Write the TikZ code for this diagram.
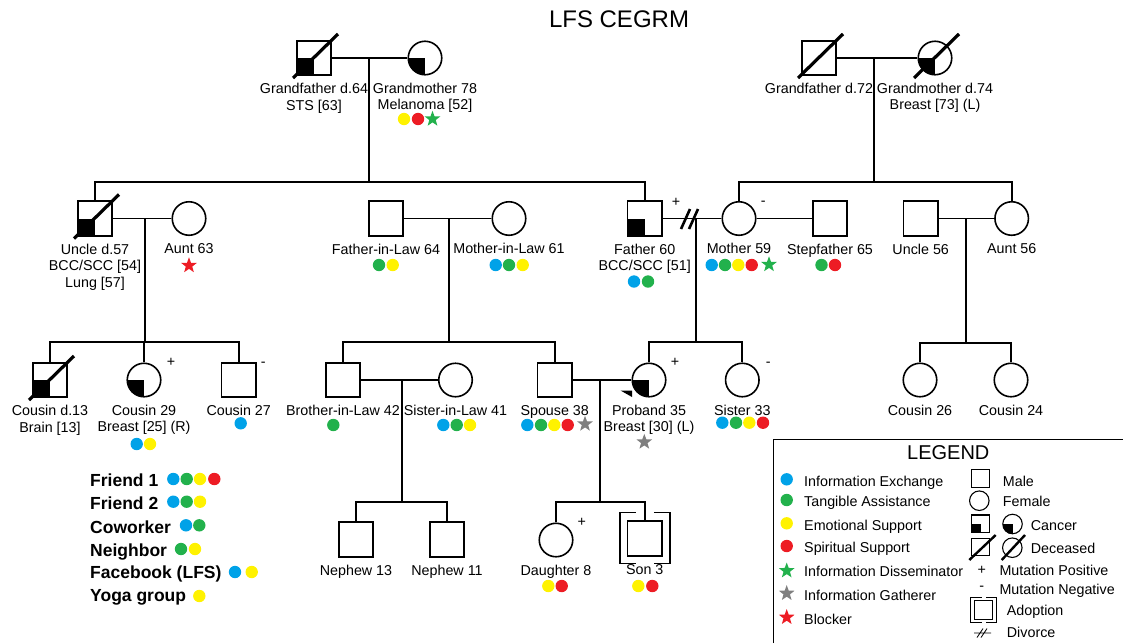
\documentclass[tikz,border=0pt]{standalone}
\usepackage{fontspec}
\setmainfont{Liberation Sans}
\usetikzlibrary{positioning,calc}
\definecolor{infoex}{HTML}{00A2E8}
\definecolor{tangib}{HTML}{22B14C}
\definecolor{emot}{HTML}{FFF200}
\definecolor{spirit}{HTML}{ED1C24}
\definecolor{gather}{HTML}{7F7F7F}
\tikzset{
  male/.style={draw,rectangle,minimum size=34.5pt,inner sep=0pt,line width=1.6pt},
  female/.style={draw,circle,minimum size=33.5pt,inner sep=0pt,line width=1.6pt},
  lgmale/.style={draw,rectangle,minimum size=17.5pt,inner sep=0pt,line width=1.1pt},
  lgfemale/.style={draw,circle,minimum size=19.5pt,inner sep=0pt,line width=1.1pt},
  lbl/.style={font=\fontsize{14.3}{16.5}\selectfont,align=center,inner sep=0pt},
  frnd/.style={font=\fontsize{17.5}{21}\selectfont\bfseries,inner sep=0pt},
  tie/.style={line width=1.8pt},
  slash/.style={line width=3.2pt}
}
\newcommand{\supdot}[3]{\fill[#3] (#1,#2) circle[radius=6.2];}
\newcommand{\supstar}[3]{%
  \fill[#3] (#1,#2) +(-90:8.2) -- +(-54:3.4) -- +(-18:8.2) -- +(18:3.4) -- +(54:8.2)
    -- +(90:3.4) -- +(126:8.2) -- +(162:3.4) -- +(198:8.2) -- +(234:3.4) -- cycle;
}
\newcommand{\cancersq}[1]{\fill (#1.center) rectangle (#1.south west);}
\newcommand{\cancerci}[2]{%
  \begin{scope}
    \clip (#1.center) circle[radius=#2];
    \fill (#1.center) rectangle ([shift={(-#2pt,-#2pt)}]#1.center);
  \end{scope}
}
\newcommand{\deceased}[1]{\draw[slash] ([shift={(-21pt,-20pt)}]#1.center) -- ([shift={(24pt,24pt)}]#1.center);}

\begin{document}
\begin{tikzpicture}[x=1pt,y=-1pt]
  \useasboundingbox (0,0) rectangle (1123,643);
  \node[font=\fontsize{24}{28}\selectfont,inner sep=0pt] (title) at (619,19) {LFS CEGRM};

  % grandparents
  \node[male] (gfa) at (314,58) {};
  \node[female] (gma) at (425,58) {};
  \node[male] (gfb) at (819,58) {};
  \node[female] (gmb) at (935,58) {};
  \cancersq{gfa}\cancerci{gma}{17}\cancerci{gmb}{17}
  \deceased{gfa}\deceased{gfb}\deceased{gmb}
  \draw[tie] (gfa) -- (gma);
  \draw[tie] (gfb) -- (gmb);
  \coordinate (cpa) at (369,58);
  \coordinate (cpb) at (874,58);
  \coordinate (sba) at (369,182);
  \coordinate (sbb) at (874,182);
  \node[lbl,below=7pt of gfa] (gfa-t) {Grandfather d.64\\STS [63]};
  \node[lbl,below=7pt of gma] (gma-t) {Grandmother 78\\Melanoma [52]};
  \node[lbl,below=7pt of gfb] (gfb-t) {Grandfather d.72};
  \node[lbl,below=7pt of gmb] (gmb-t) {Grandmother d.74\\Breast [73] (L)};
  \foreach \x/\cl in {404/emot,418/spirit} {\supdot{\x}{119}{\cl}}
  \supstar{432.5}{119}{tangib}

  % parents, uncles, aunts
  \node[male] (uncle) at (95,218.5) {};
  \node[female] (aunt) at (189,218.5) {};
  \node[male] (fil) at (386,218.5) {};
  \node[female] (mil) at (509,218.5) {};
  \node[male] (father) at (644.7,218.5) {};
  \node[female] (mother) at (739,218.5) {};
  \node[male] (stepf) at (830,218.5) {};
  \node[male] (uncleb) at (920.7,218.5) {};
  \node[female] (auntb) at (1011.7,218.5) {};
  \cancersq{uncle}\cancersq{father}
  \deceased{uncle}
  \draw[tie] (cpa) -- (sba);
  \draw[tie] (uncle.north) |- (sba) -| (father.north);
  \draw[tie] (cpb) -- (sbb);
  \draw[tie] (mother.north) |- (sbb) -| (auntb.north);
  \draw[tie] (uncle) -- (aunt);
  \draw[tie] (fil) -- (mil);
  \draw[tie] (father) -- (mother);
  \draw[tie] (mother) -- (stepf);
  \draw[tie] (uncleb) -- (auntb);
  \draw[slash,line width=2.6pt] (681,229) -- (690,209) (689,229) -- (698,209);
  \node[lbl] (father-g) at (676,202) {+};
  \node[lbl] (mother-g) at (763.3,203.3) {-};
  \node[lbl,below=7pt of uncle] (uncle-t) {Uncle d.57\\BCC/SCC [54]\\Lung [57]};
  \node[lbl,below=7pt of aunt] (aunt-t) {Aunt 63};
  \node[lbl,below=7pt of fil] (fil-t) {Father-in-Law 64};
  \node[lbl,below=7pt of mil] (mil-t) {Mother-in-Law 61};
  \node[lbl,below=7pt of father] (father-t) {Father 60\\BCC/SCC [51]};
  \node[lbl,below=7pt of mother] (mother-t) {Mother 59};
  \node[lbl,below=7pt of stepf] (stepf-t) {Stepfather 65};
  \node[lbl,below=7pt of uncleb] (uncleb-t) {Uncle 56};
  \node[lbl,below=7pt of auntb] (auntb-t) {Aunt 56};
  \supstar{189}{265.5}{spirit}
  \foreach \x/\cl in {379/tangib,392.7/emot} {\supdot{\x}{265}{\cl}}
  \foreach \x/\cl in {495.7/infoex,509/tangib,522.7/emot} {\supdot{\x}{265}{\cl}}
  \foreach \x/\cl in {634/infoex,648/tangib} {\supdot{\x}{281.5}{\cl}}
  \foreach \x/\cl in {711.7/infoex,725/tangib,738.3/emot,751.7/spirit} {\supdot{\x}{265}{\cl}}
  \supstar{769}{264.5}{tangib}
  \foreach \x/\cl in {821.5/tangib,835/spirit} {\supdot{\x}{265}{\cl}}

  % cousins, proband, siblings
  \coordinate (ca) at (145,218.5);
  \coordinate (cb) at (449,218.5);
  \coordinate (cc) at (695.7,218.5);
  \coordinate (cd) at (966,218.5);
  \coordinate (sca) at (145,342);
  \coordinate (scb) at (449,342);
  \coordinate (scc) at (695.7,342);
  \coordinate (scd) at (966,343);
  \node[male] (cous1) at (50,380) {};
  \node[female] (cous2) at (144,380) {};
  \node[male] (cous3) at (238.7,380) {};
  \node[male] (bil) at (343,380) {};
  \node[female] (sil) at (455.5,380) {};
  \node[male] (spouse) at (554.7,380) {};
  \node[female] (proband) at (649,380) {};
  \node[female] (sister) at (742.3,380) {};
  \node[female] (cous4) at (920,380) {};
  \node[female] (cous5) at (1011,380) {};
  \cancersq{cous1}\cancerci{cous2}{17}\cancerci{proband}{17}
  \deceased{cous1}
  \draw[tie] (ca) -- (sca);
  \draw[tie] (cous1.north) |- (sca) -| (cous3.north);
  \draw[tie] (sca) -| (cous2.north);
  \draw[tie] (cb) -- (scb);
  \draw[tie] (bil.north) |- (scb) -| (spouse.north);
  \draw[tie] (cc) -- (scc);
  \draw[tie] (proband.north) |- (scc) -| (sister.north);
  \draw[tie] (cd) -- (scd);
  \draw[tie] (cous4.north) |- (scd) -| (cous5.north);
  \draw[tie] (bil) -- (sil);
  \draw[tie] (spouse) -- (proband);
  \fill (620.5,390.5) -- (632,390.5) -- (632,397) -- cycle;
  \node[lbl] (cous2-g) at (171,362.7) {+};
  \node[lbl] (cous3-g) at (263.3,364) {-};
  \node[lbl] (proband-g) at (675,362.7) {+};
  \node[lbl] (sister-g) at (768.3,364) {-};
  \node[lbl,below=7pt of cous1] (cous1-t) {Cousin d.13\\Brain [13]};
  \node[lbl,below=7pt of cous2] (cous2-t) {Cousin 29\\Breast [25] (R)};
  \node[lbl,below=7pt of cous3] (cous3-t) {Cousin 27};
  \node[lbl,below=7pt of bil] (bil-t) {Brother-in-Law 42};
  \node[lbl,below=7pt of sil] (sil-t) {Sister-in-Law 41};
  \node[lbl,below=7pt of spouse] (spouse-t) {Spouse 38};
  \node[lbl,below=7pt of proband] (proband-t) {Proband 35\\Breast [30] (L)};
  \node[lbl,below=7pt of sister] (sister-t) {Sister 33};
  \node[lbl,below=7pt of cous4] (cous4-t) {Cousin 26};
  \node[lbl,below=7pt of cous5] (cous5-t) {Cousin 24};
  \foreach \x/\cl in {136.7/infoex,150/emot} {\supdot{\x}{444}{\cl}}
  \supdot{240.7}{423.3}{infoex}
  \supdot{333.3}{425}{tangib}
  \foreach \x/\cl in {443.3/infoex,456.7/tangib,470/emot} {\supdot{\x}{425}{\cl}}
  \foreach \x/\cl in {527.3/infoex,541/tangib,554.3/emot,567.7/spirit} {\supdot{\x}{425}{\cl}}
  \supstar{585}{424}{gather}
  \supstar{644.3}{442}{gather}
  \foreach \x/\cl in {722.3/infoex,736/tangib,749.3/emot,763/spirit} {\supdot{\x}{422.7}{\cl}}

  % children, nephews
  \coordinate (ce) at (401.7,380);
  \coordinate (cf) at (600,380);
  \coordinate (sce) at (401.7,501.7);
  \coordinate (scf) at (600,501.7);
  \node[male] (nep1) at (356,539.5) {};
  \node[male] (nep2) at (447,539.5) {};
  \node[female] (daughter) at (556,540) {};
  \node[male] (son) at (644.7,538.5) {};
  \draw[tie] (ce) -- (sce);
  \draw[tie] (nep1.north) |- (sce) -| (nep2.north);
  \draw[tie] (cf) -- (scf);
  \draw[tie] (daughter.north) |- (scf) -| (son.north);
  \draw[tie] ([shift={(9pt,8pt)}]son.north west) -- ([shift={(-7pt,8pt)}]son.north west)
    -- ([shift={(-7pt,-7pt)}]son.south west) -- ([shift={(9pt,-7pt)}]son.south west);
  \draw[tie] ([shift={(-9pt,8pt)}]son.north east) -- ([shift={(7pt,8pt)}]son.north east)
    -- ([shift={(7pt,-7pt)}]son.south east) -- ([shift={(-9pt,-7pt)}]son.south east);
  \node[lbl] (daughter-g) at (581.7,522.7) {+};
  \node[lbl,below=7pt of nep1] (nep1-t) {Nephew 13};
  \node[lbl,below=7pt of nep2] (nep2-t) {Nephew 11};
  \node[lbl,below=7pt of daughter] (daughter-t) {Daughter 8};
  \node[lbl,below=8pt of son] (son-t) {Son 3};
  \foreach \x/\cl in {548.3/emot,561.7/spirit,638.3/emot,652.3/spirit} {\supdot{\x}{586}{\cl}}

  % friends
  \foreach \txt/\yy [count=\i] in {Friend 1/486.7,Friend 2/509.3,Coworker/533.3,Neighbor/556,Facebook (LFS)/578.3,Yoga group/601.7}
    {\node[frnd,anchor=base west] (fr\i) at (90,\yy) {\txt};}
  \foreach \x/\cl in {173.3/infoex,186.7/tangib,200/emot,214.3/spirit} {\supdot{\x}{479}{\cl}}
  \foreach \x/\cl in {173.3/infoex,186.7/tangib,200/emot} {\supdot{\x}{501.7}{\cl}}
  \foreach \x/\cl in {186/infoex,199.3/tangib} {\supdot{\x}{525.3}{\cl}}
  \foreach \x/\cl in {181/tangib,195/emot} {\supdot{\x}{549}{\cl}}
  \foreach \x/\cl in {235/infoex,251.7/emot} {\supdot{\x}{572}{\cl}}
  \supdot{199.3}{596}{emot}

  % legend
  \draw[line width=1pt] (773,643) -- (773,439) -- (1123,439);
  \node[font=\fontsize{20}{24}\selectfont,inner sep=0pt] (lgtitle) at (948.3,452.3) {LEGEND};
  \foreach \txt/\yy [count=\i] in {Information Exchange/486.7,Tangible Assistance/506.7,Emotional Support/530,Spiritual Support/552.3,Information Disseminator/576.7,Information Gatherer/600.7,Blocker/624}
    {\node[lbl,anchor=base west] (lgl\i) at (804,\yy) {\txt};}
  \foreach \yy/\cl in {479.3/infoex,500/tangib,523.3/emot,546/spirit} {\supdot{786.7}{\yy}{\cl}}
  \foreach \yy/\cl in {570.7/tangib,593.3/gather,617.3/spirit} {\supstar{786.7}{\yy}{\cl}}
  \foreach \txt/\xx/\yy [count=\i] in {Male/1002.7/486,Female/1002.7/506.5,Cancer/1030.7/530,Deceased/1030.7/553,Mutation Positive/999.3/575.5,Mutation Negative/999.3/594,Adoption/1006.7/615,Divorce/1006.7/637}
    {\node[lbl,anchor=base west] (lgr\i) at (\xx,\yy) {\txt};}
  \node[lgmale] (lgm) at (980.3,478.3) {};
  \node[lgfemale] (lgf) at (979.3,500.7) {};
  \node[lgmale] (lgcs) at (980.5,523.7) {};
  \node[lgfemale] (lgcc) at (1012.5,524) {};
  \cancersq{lgcs}\cancerci{lgcc}{10}
  \node[lgmale] (lgds) at (980.5,547) {};
  \node[lgfemale] (lgdc) at (1012.3,547.7) {};
  \draw[line width=2.4pt] (969.3,560) -- (995.7,535);
  \draw[line width=2.4pt] (1001.7,560) -- (1025,535);
  \node[lbl] (lgpos) at (981.7,570) {+};
  \node[lbl] (lgneg) at (981.7,588.3) {-};
  \node[lgmale,minimum size=18.5pt] (lgad) at (983.3,610) {};
  \draw[line width=1.1pt] ([shift={(8pt,2.5pt)}]lgad.north west) -- ([shift={(-3pt,2.5pt)}]lgad.north west)
    -- ([shift={(-3pt,-2.5pt)}]lgad.south west) -- ([shift={(8pt,-2.5pt)}]lgad.south west);
  \draw[line width=1.1pt] ([shift={(-7pt,2.5pt)}]lgad.north east) -- ([shift={(3pt,2.5pt)}]lgad.north east)
    -- ([shift={(3pt,-2.5pt)}]lgad.south east) -- ([shift={(-7pt,-2.5pt)}]lgad.south east);
  \draw[line width=0.8pt] (974,633) -- (991,633) (977,637.5) -- (983,628.5) (981,637.5) -- (987,628.5);
\end{tikzpicture}
\end{document}
